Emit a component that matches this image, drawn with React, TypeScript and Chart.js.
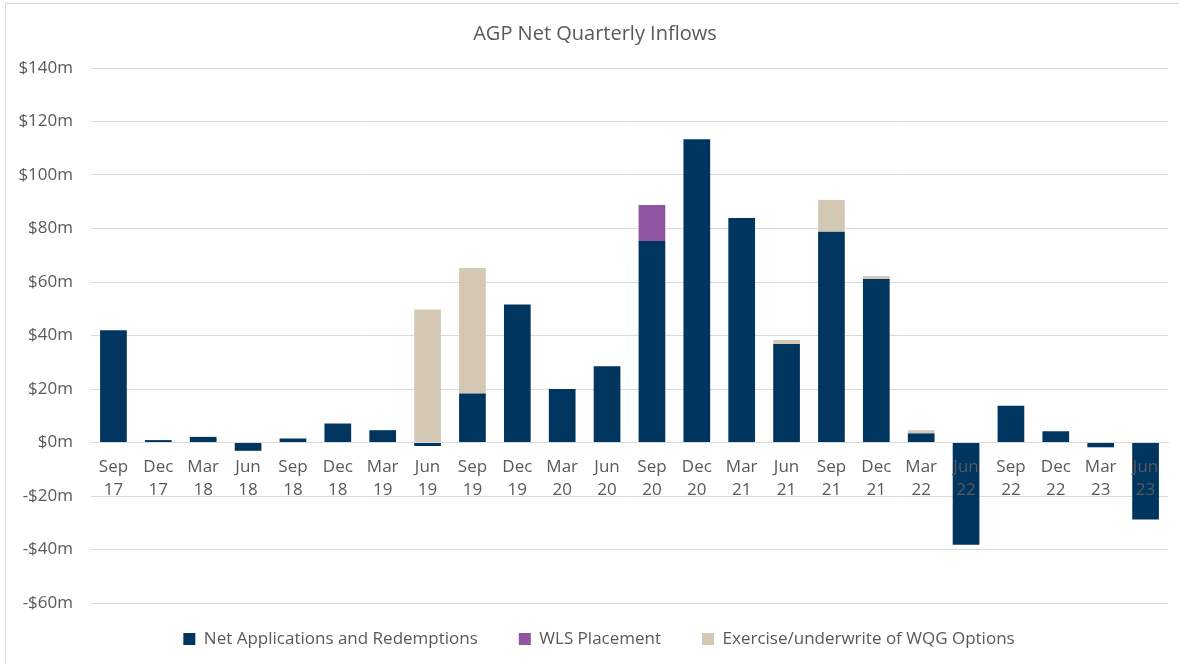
import React, { useEffect, useRef } from 'react';
import { Chart, registerables } from 'chart.js';

Chart.register(...registerables);

const categories: string[][] = [
  ['Sep', '17'], ['Dec', '17'], ['Mar', '18'], ['Jun', '18'], ['Sep', '18'], ['Dec', '18'],
  ['Mar', '19'], ['Jun', '19'], ['Sep', '19'], ['Dec', '19'], ['Mar', '20'], ['Jun', '20'],
  ['Sep', '20'], ['Dec', '20'], ['Mar', '21'], ['Jun', '21'], ['Sep', '21'], ['Dec', '21'],
  ['Mar', '22'], ['Jun', '22'], ['Sep', '22'], ['Dec', '22'], ['Mar', '23'], ['Jun', '23'],
];

const netApplications: number[] = [
  42, 0.9, 2.1, -3.1, 1.5, 7.1, 4.6, -1.3, 18.3, 51.6, 20, 28.5,
  75.3, 113.4, 83.9, 36.8, 78.8, 61.1, 3.4, -38.2, 13.7, 4.2, -1.8, -28.8,
];

const wlsPlacement: (number | null)[] = [
  null, null, null, null, null, null, null, null, null, null, null, null,
  13.5, null, null, null, null, null, null, null, null, null, null, null,
];

const wqgOptions: (number | null)[] = [
  null, null, null, null, null, null, null, 49.7, 46.9, null, null, null,
  null, null, null, 1.5, 11.9, 1.1, 1.2, null, null, null, null, null,
];

const yTicks = { min: -60, max: 140, step: 20 };

const TEXT = '#595959';
const GRID = '#d9d9d9';
const FONT = "'Open Sans', sans-serif";

const boxShift = {
  id: 'boxShift',
  afterLayout(chart: any) {
    const lg = chart.legend;
    if (lg) {
      const h = lg.bottom - lg.top;
      lg.top = 585.5;
      lg.bottom = 585.5 + h;
      lg.left += 12;
      lg.right += 12;
    }
    const tb = chart.titleBlock;
    if (tb) {
      tb.left += 8;
      tb.right += 8;
    }
  },
};

export default function App() {
  const ref = useRef<HTMLCanvasElement>(null);

  useEffect(() => {
    if (!ref.current) return;
    const chart = new Chart(ref.current, {
      type: 'bar',
      data: {
        labels: categories,
        datasets: [
          {
            label: 'Net Applications and Redemptions',
            data: netApplications,
            backgroundColor: '#00355f',
            stack: 's',
          },
          {
            label: 'WLS Placement',
            data: wlsPlacement,
            backgroundColor: '#8f55a1',
            stack: 's',
          },
          {
            label: 'Exercise/underwrite of WQG Options',
            data: wqgOptions,
            backgroundColor: '#d3c8b3',
            stack: 's',
          },
        ],
      },
      options: {
        animation: false,
        responsive: false,
        devicePixelRatio: 1,
        datasets: {
          bar: { categoryPercentage: 1, barPercentage: 0.595, borderWidth: 0 },
        },
        layout: { padding: { top: 0, right: 18, bottom: 0, left: 0 } },
        scales: {
          x: {
            stacked: true,
            position: { y: 0 } as any,
            grid: { display: false, drawTicks: false },
            border: { display: true, color: GRID, width: 1, z: 1 } as any,
            ticks: {
              z: 1,
              color: TEXT,
              font: { family: FONT, size: 17, lineHeight: '23px' as any },
              padding: 13.5,
              maxRotation: 0,
              autoSkip: false,
            },
          },
          y: {
            stacked: true,
            min: yTicks.min,
            max: yTicks.max,
            grid: { color: GRID, drawTicks: false, lineWidth: 1 },
            border: { display: false },
            ticks: {
              stepSize: yTicks.step,
              color: TEXT,
              padding: 18,
              font: { family: FONT, size: 17 },
              callback: (v: any) => (Number(v) < 0 ? '-$' + Math.abs(Number(v)) + 'm' : '$' + v + 'm'),
            },
            afterFit: (scale: any) => {
              scale.width = 85;
            },
          },
        },
        plugins: {
          title: {
            display: true,
            text: 'AGP Net Quarterly Inflows',
            color: TEXT,
            font: { family: FONT, size: 20, weight: 'normal' as any, lineHeight: 1.2 },
            padding: { top: 18, bottom: 22 },
          },
          legend: {
            position: 'bottom',
            maxHeight: 61,
            labels: {
              color: TEXT,
              font: { family: FONT, size: 17 },
              boxWidth: 12,
              boxHeight: 12,
              padding: 41,
            },
          },
          tooltip: { enabled: false },
        },
      },
      plugins: [boxShift],
    });
    return () => chart.destroy();
  }, []);

  return (
    <div style={{ position: 'absolute', left: 0, top: 0, width: 1179, height: 664, overflow: 'hidden', background: '#fff' }}>
      <div
        style={{
          position: 'absolute',
          left: 5,
          top: 3,
          width: 1200,
          height: 700,
          borderLeft: `1px solid ${GRID}`,
          borderTop: `1px solid ${GRID}`,
          boxSizing: 'border-box',
        }}
      />
      <canvas ref={ref} width={1180} height={660} style={{ position: 'absolute', left: 6, top: 4, width: 1180, height: 660 }} />
    </div>
  );
}
